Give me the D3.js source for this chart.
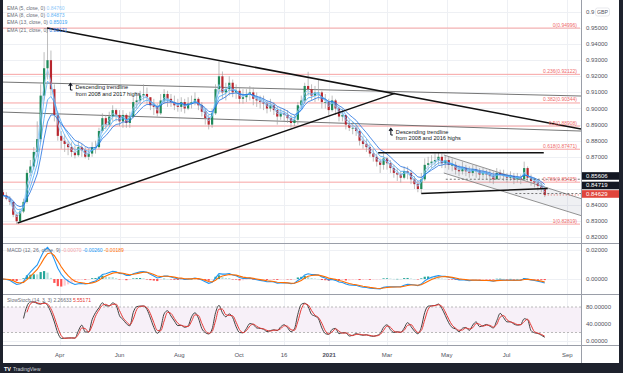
<!DOCTYPE html>
<html><head><meta charset="utf-8">
<script src="https://cdn.jsdelivr.net/npm/d3@7"></script>
<style>html,body{margin:0;padding:0;background:#1e222d;}svg{display:block;font-family:"Liberation Sans",Arial,sans-serif;}</style>
</head><body><svg id="c" width="623" height="373"></svg>
<script>
// ---------------- DATA ----------------
const startDate = "2020-02-03";           // first candle; candles are half-week bars
const firstOpen = 0.8480;
const closes = [
.8460,.8440,.8420,.8340,.8300,.8360,.8420,.8600,.8640,.8730,.8810,.9080,.9250,.9300,.9120,.8960,
.8830,.8800,.8780,.8760,.8730,.8710,.8760,.8740,.8700,.8720,.8760,.8760,.8860,.8940,.8900,.8950,
.8990,.8960,.8920,.8960,.8910,.8950,.9040,.9050,.9080,.9090,.9070,.9020,.9010,.8970,.9050,.9090,
.9060,.9040,.9020,.9010,.9040,.9000,.9030,.9040,.9060,.9020,.8980,.8940,.8900,.8970,.9120,.9200,
.9100,.9120,.9160,.9100,.9110,.9060,.9070,.9090,.9100,.9060,.9050,.9040,.9030,.9000,.9020,.8990,
.8950,.8970,.8960,.8940,.8910,.8930,.9020,.9050,.9140,.9120,.9080,.9100,.9100,.9040,.9040,.8990,
.9050,.9000,.8950,.8960,.8900,.8880,.8880,.8860,.8800,.8780,.8760,.8720,.8700,.8670,.8650,.8690,
.8660,.8630,.8600,.8590,.8570,.8610,.8600,.8560,.8530,.8500,.8560,.8650,.8660,.8670,.8680,.8700,
.8660,.8680,.8650,.8650,.8620,.8610,.8630,.8610,.8600,.8620,.8610,.8590,.8600,.8590,.8580,.8560,
.8600,.8590,.8580,.8570,.8580,.8560,.8570,.8560,.8630,.8570,.8550,.8540,.8520,.8500,.8463];
const highs = [
.8495,.8480,.8455,.8420,.8345,.8380,.8440,.8620,.8680,.8760,.8920,.9150,.9350,.9499,.9360,.9150,
.8980,.8860,.8840,.8800,.8790,.8770,.8800,.8780,.8760,.8750,.8790,.8800,.8880,.8970,.8960,.8980,
.9020,.9000,.8990,.8990,.8970,.8980,.9070,.9100,.9110,.9150,.9130,.9070,.9060,.9030,.9090,.9120,
.9110,.9090,.9080,.9060,.9070,.9060,.9070,.9080,.9100,.9070,.9040,.9000,.8960,.9000,.9150,.9292,
.9230,.9160,.9200,.9180,.9150,.9130,.9120,.9120,.9140,.9130,.9100,.9080,.9080,.9050,.9060,.9040,
.9010,.9000,.9000,.8990,.8960,.8960,.9040,.9080,.9160,.9228,.9150,.9140,.9180,.9110,.9090,.9060,
.9080,.9060,.9010,.9000,.8960,.8930,.8920,.8900,.8870,.8830,.8810,.8780,.8750,.8720,.8690,.8720,
.8700,.8680,.8650,.8630,.8610,.8640,.8640,.8620,.8580,.8550,.8600,.8690,.8700,.8710,.8720,.8725,
.8720,.8710,.8700,.8690,.8670,.8650,.8670,.8650,.8640,.8650,.8650,.8630,.8630,.8620,.8620,.8610,
.8630,.8620,.8620,.8600,.8610,.8600,.8600,.8590,.8670,.8640,.8590,.8570,.8560,.8540,.8510];
const lows = [
.8440,.8430,.8400,.8325,.8282,.8290,.8350,.8410,.8580,.8620,.8700,.8790,.9050,.9180,.9080,.8920,
.8800,.8750,.8730,.8710,.8700,.8690,.8700,.8700,.8690,.8680,.8700,.8720,.8750,.8850,.8870,.8890,
.8920,.8920,.8890,.8880,.8880,.8880,.8940,.9000,.9020,.9050,.9030,.8990,.8960,.8950,.8960,.9030,
.9010,.9010,.8990,.8980,.8980,.8970,.8990,.9000,.9020,.8990,.8950,.8900,.8870,.8880,.8960,.9090,
.9060,.9050,.9080,.9070,.9060,.9030,.9030,.9040,.9050,.9020,.9010,.9000,.8990,.8970,.8980,.8960,
.8900,.8930,.8920,.8910,.8880,.8890,.8900,.9000,.9030,.9080,.9050,.9040,.9050,.9000,.9000,.8960,
.8980,.8960,.8920,.8920,.8870,.8860,.8840,.8830,.8770,.8750,.8730,.8700,.8670,.8640,.8600,.8620,
.8620,.8600,.8570,.8550,.8540,.8560,.8560,.8530,.8500,.8480,.8472,.8550,.8620,.8630,.8640,.8650,
.8630,.8630,.8620,.8610,.8590,.8580,.8590,.8580,.8570,.8580,.8570,.8560,.8570,.8560,.8540,.8530,
.8560,.8560,.8550,.8540,.8550,.8530,.8540,.8530,.8550,.8550,.8520,.8510,.8490,.8480,.8450];

const emaPeriods = [5, 8, 13, 21];
const emaLegendValues = ["0.84760", "0.84873", "0.85019", "0.85171"];
const macdLegendValues = ["-0.00070", "-0.00260", "-0.00189"];
const stochLegendValues = ["2.26633", "5.55171"];
const priceTicks = [0.82,0.83,0.84,0.85,0.86,0.87,0.88,0.89,0.90,0.91,0.92,0.93,0.94,0.95];
const macdTicks = [0, 0.02];
const stochTicks = [0, 40, 80];
const timeTicks = [["2020-04-01","Apr"],["2020-06-01","Jun"],["2020-08-01","Aug"],["2020-10-01","Oct"],
  ["2020-11-16","16"],["2021-01-01","2021"],["2021-03-01","Mar"],["2021-05-01","May"],["2021-07-01","Jul"],["2021-09-01","Sep"]];
const fibHigh = 0.94996, fibLow = 0.82819;
const fibRatios = [0, 0.236, 0.382, 0.5, 0.618, 0.786, 1];
const thickLines = [
  [["2020-03-19",0.9500],["2021-09-15",0.8873]],
  [["2020-02-18",0.8289],["2021-03-09",0.9094]],
  [["2021-02-20",0.8725],["2021-08-08",0.8725]],
  [["2021-04-05",0.8472],["2021-08-12",0.8503]]];
const thinLines = [
  [["2020-01-31",0.91646],["2021-09-15",0.90776]],
  [["2020-01-31",0.89783],["2021-09-15",0.88600]]];
const channelUpper = [["2021-04-28",0.87112],["2021-09-15",0.84404]];
const channelLower = [["2021-04-28",0.85994],["2021-09-15",0.83348]];
const dashedLevels = [["2021-04-30",0.85606],["2021-07-10",0.84719]];
const priceBoxes = [["0.85606",0.85606,"#131722"],["0.84719",0.84719,"#131722"],["0.84629",0.84629,"#e0453c"]];
const notes = [["2020-04-16",0.9121,"Descending trendline","from 2008 and 2017 highs"],
               ["2021-03-09",0.8842,"Descending trendline","from 2008 and 2016 highs"]];

// ---------------- SETUP ----------------
const parse = d3.timeParse("%Y-%m-%d");
const svg = d3.select("#c");
const W = 623, H = 373;
const plotL = 3, plotR = 581, axisR = 619;
const priceTop = 0, priceBot = 243, macdTop = 244, macdBot = 294, stTop = 295, stBot = 345, timeBot = 363;

const x = d3.scaleTime().domain([parse("2020-01-31"), parse("2021-09-15")]).range([0, 581]);
const y = d3.scaleLinear().domain([0.82, 0.95]).range([237.3, 28]);
const yM = d3.scaleLinear().domain([0, 0.02]).range([279, 250]);
const yS = d3.scaleLinear().domain([0, 80]).range([341, 307]);

svg.append("rect").attr("width", W).attr("height", H).attr("fill", "#1e222d");
svg.append("rect").attr("x", 3).attr("y", 0).attr("width", axisR - 3).attr("height", timeBot).attr("fill", "#fff");

const defs = svg.append("defs");
function clip(id, y0, y1){ defs.append("clipPath").attr("id", id).append("rect").attr("x", plotL).attr("y", y0).attr("width", plotR - plotL).attr("height", y1 - y0); }
clip("cp", priceTop, priceBot); clip("cm", macdTop, macdBot); clip("cs", stTop, stBot);

const t0 = parse(startDate);
const dates = closes.map((_, i) => d3.timeHour.offset(t0, i * 84));
const opens = closes.map((c, i) => i ? closes[i - 1] : firstOpen);

// grid
const grid = svg.append("g").attr("stroke", "#eef0f4").attr("stroke-width", 1);
timeTicks.forEach(t => { const xx = Math.round(x(parse(t[0]))) + 0.5;
  grid.append("line").attr("x1", xx).attr("x2", xx).attr("y1", 0).attr("y2", stBot); });
priceTicks.concat([0.96]).forEach(p => { const yy = Math.round(y(p)) + 0.5; if (yy < priceBot && yy > 0)
  grid.append("line").attr("x1", plotL).attr("x2", plotR).attr("y1", yy).attr("y2", yy); });
macdTicks.forEach(p => { const yy = Math.round(yM(p)) + 0.5;
  grid.append("line").attr("x1", plotL).attr("x2", plotR).attr("y1", yy).attr("y2", yy); });
stochTicks.forEach(p => { const yy = Math.round(yS(p)) + 0.5;
  grid.append("line").attr("x1", plotL).attr("x2", plotR).attr("y1", yy).attr("y2", yy); });

// ---------------- PRICE PANE ----------------
const gp = svg.append("g").attr("clip-path", "url(#cp)");
const P = d => [x(parse(d[0])), y(d[1])];

fibRatios.forEach(r => {
  const v = fibHigh - r * (fibHigh - fibLow);
  const yy = y(v);
  gp.append("line").attr("x1", plotL).attr("x2", 580).attr("y1", yy).attr("y2", yy)
    .attr("stroke", "#f7a3a3").attr("stroke-width", 1);
  svg.append("text").attr("x", 577).attr("y", yy - 1.5).attr("text-anchor", "end")
    .attr("font-size", 5).attr("fill", "#ef6b6b").text(`${r}(${v.toFixed(5)})`);
});

const cu = channelUpper.map(P), cl = channelLower.map(P);
gp.append("path").attr("d", `M${cu[0]}L${cu[1]}L${cl[1]}L${cl[0]}Z`).attr("fill", "rgba(120,130,160,0.12)");
[cu, cl].forEach(l => gp.append("line").attr("x1", l[0][0]).attr("y1", l[0][1]).attr("x2", l[1][0]).attr("y2", l[1][1])
  .attr("stroke", "#777").attr("stroke-width", 0.8));

thinLines.forEach(l => { const a = P(l[0]), b = P(l[1]);
  gp.append("line").attr("x1", a[0]).attr("y1", a[1]).attr("x2", b[0]).attr("y2", b[1]).attr("stroke", "#666").attr("stroke-width", 0.9); });

const cg = gp.append("g");
closes.forEach((c, i) => {
  const o = opens[i], hi = Math.max(highs[i], o, c), lo = Math.min(lows[i], o, c);
  const xx = x(dates[i]);
  const up = c >= o;
  cg.append("line").attr("x1", xx).attr("x2", xx).attr("y1", y(hi)).attr("y2", y(lo)).attr("stroke", "#a0a0a0").attr("stroke-width", 0.7);
  const top = y(Math.max(o, c)), bot = y(Math.min(o, c));
  cg.append("rect").attr("x", xx - 1.1).attr("width", 2.2).attr("y", top).attr("height", Math.max(0.8, bot - top))
    .attr("fill", up ? "#1f8a5a" : "#b8262e");
});

const K = 2.5;
function ema(src, n){ const a = 1 - Math.pow(1 - 2 / (n + 1), K); const o = []; let p;
  src.forEach((v, i) => { p = i === 0 ? v : p + a * (v - p); o.push(p); }); return o; }
const emaColors = ["#90caf9", "#64b5f6", "#42a5f5", "#1e6fe0"];
emaPeriods.forEach((n, j) => {
  const e = ema(closes, n);
  gp.append("path").datum(e).attr("fill", "none").attr("stroke", emaColors[j]).attr("stroke-width", 0.8)
    .attr("d", d3.line().x((d, i) => x(dates[i])).y(d => y(d)));
});

thickLines.forEach(l => { const a = P(l[0]), b = P(l[1]);
  gp.append("line").attr("x1", a[0]).attr("y1", a[1]).attr("x2", b[0]).attr("y2", b[1]).attr("stroke", "#111").attr("stroke-width", 1.5); });

dashedLevels.forEach(l => { const a = P(l);
  gp.append("line").attr("x1", a[0]).attr("x2", plotR).attr("y1", a[1]).attr("y2", a[1]).attr("stroke", "#555").attr("stroke-width", 0.8).attr("stroke-dasharray", "2,2"); });
const lastY = y(closes[closes.length - 1]);
gp.append("line").attr("x1", x(dates[dates.length - 1])).attr("x2", plotR).attr("y1", lastY).attr("y2", lastY)
  .attr("stroke", "#e0453c").attr("stroke-width", 0.8).attr("stroke-dasharray", "1,2");

notes.forEach(n => {
  const xx = x(parse(n[0])), yy = y(n[1]);
  svg.append("path").attr("d", `M${xx - 4},${yy + 1}L${xx - 4},${yy - 5}M${xx - 5.8},${yy - 3}L${xx - 4},${yy - 5.5}L${xx - 2.2},${yy - 3}M${xx - 4},${yy + 1}L${xx - 2},${yy + 1}`)
    .attr("stroke", "#131722").attr("stroke-width", 1.1).attr("fill", "none");
  svg.append("text").attr("x", xx + 1).attr("y", yy).attr("font-size", 5.6).attr("fill", "#131722").text(n[2]);
  svg.append("text").attr("x", xx + 1).attr("y", yy + 6.5).attr("font-size", 5.6).attr("fill", "#131722").text(n[3]);
});

// ---------------- MACD ----------------
const e12 = ema(closes, 12), e26 = ema(closes, 26);
const macd = e12.map((v, i) => v - e26[i]);
const sig = ema(macd, 9);
const hist = macd.map((v, i) => v - sig[i]);
const gm = svg.append("g").attr("clip-path", "url(#cm)");
hist.forEach((h, i) => {
  const prev = i ? hist[i - 1] : 0;
  const col = h >= 0 ? (h >= prev ? "#26a69a" : "#b2dfdb") : (h < prev ? "#ff5252" : "#ffcdd2");
  const y0 = yM(0), y1 = yM(h);
  gm.append("rect").attr("x", x(dates[i]) - 1.1).attr("width", 2.2).attr("y", Math.min(y0, y1)).attr("height", Math.max(0.5, Math.abs(y1 - y0))).attr("fill", col);
});
const lineM = d3.line().x((d, i) => x(dates[i])).y(d => yM(d));
gm.append("path").datum(macd).attr("fill", "none").attr("stroke", "#2196f3").attr("stroke-width", 1.1).attr("d", lineM);
gm.append("path").datum(sig).attr("fill", "none").attr("stroke", "#ff6d00").attr("stroke-width", 1.1).attr("d", lineM);

// ---------------- STOCH ----------------
const L = 6;
const rawK = closes.map((c, i) => { if (i < L - 1) return null;
  const hh = d3.max(highs.slice(i - L + 1, i + 1)), ll = d3.min(lows.slice(i - L + 1, i + 1));
  return 100 * (c - ll) / (hh - ll); });
const sma = (arr, n) => arr.map((v, i) => { const s = arr.slice(Math.max(0, i - n + 1), i + 1).filter(q => q != null);
  return (v == null || s.length < n) ? null : d3.mean(s); });
const kLine = sma(rawK, 2), dLine = sma(kLine, 2);
const gs = svg.append("g").attr("clip-path", "url(#cs)");
gs.append("rect").attr("x", plotL).attr("width", plotR - plotL).attr("y", yS(80)).attr("height", yS(20) - yS(80)).attr("fill", "#f7f0f8");
[80, 20].forEach(v => gs.append("line").attr("x1", plotL).attr("x2", plotR).attr("y1", yS(v)).attr("y2", yS(v))
  .attr("stroke", "#aaa").attr("stroke-width", 0.8).attr("stroke-dasharray", "2,2"));
const lineS = d3.line().defined(d => d != null).x((d, i) => x(dates[i])).y(d => yS(d)).curve(d3.curveMonotoneX);
gs.append("path").datum(kLine).attr("fill", "none").attr("stroke", "#444").attr("stroke-width", 1).attr("d", lineS);
gs.append("path").datum(dLine).attr("fill", "none").attr("stroke", "#e53935").attr("stroke-width", 1).attr("d", lineS);

// ---------------- FRAMES & AXES ----------------
const fr = svg.append("g").attr("stroke", "#9a9ea8").attr("stroke-width", 1);
[priceBot + 0.5, macdBot + 0.5, stBot + 0.5].forEach(yy => fr.append("line").attr("x1", plotL).attr("x2", axisR).attr("y1", yy).attr("y2", yy));
fr.append("line").attr("x1", plotR + 0.5).attr("x2", plotR + 0.5).attr("y1", 0).attr("y2", timeBot);

// price boxes (stacked upward from the last one)
const boxY = y(priceBoxes[2][1]) - 1;
const boxCenters = [boxY - 18, boxY - 8.5, boxY];

const ax = svg.append("g").attr("font-size", 6).attr("fill", "#50535e");
priceTicks.forEach(p => { const yy = y(p);
  const hidden = boxCenters.some(c => Math.abs(c - yy) < 7.5);
  if (yy > 4 && yy < priceBot - 3 && !hidden)
  ax.append("text").attr("x", 586).attr("y", yy + 2).text(p.toFixed(5)); });
ax.append("text").attr("x", 586).attr("y", y(0.96) + 2).text("0.9");
macdTicks.forEach(p => ax.append("text").attr("x", 586).attr("y", yM(p) + 2).text(p.toFixed(5)));
stochTicks.forEach(p => ax.append("text").attr("x", 586).attr("y", yS(p) + 2).text(p.toFixed(5)));
timeTicks.forEach(t => ax.append("text").attr("x", x(parse(t[0]))).attr("y", 357).attr("text-anchor", "middle")
  .attr("font-weight", t[1] === "2021" ? "bold" : "normal").text(t[1]));

svg.append("rect").attr("x", 595.5).attr("y", 8).attr("width", 14).attr("height", 8).attr("rx", 2).attr("fill", "#fff").attr("stroke", "#d8dae0").attr("stroke-width", 0.6);
svg.append("text").attr("x", 602.5).attr("y", 14).attr("text-anchor", "middle").attr("font-size", 5.2).attr("fill", "#50535e").text("GBP");

priceBoxes.forEach((b, i) => {
  svg.append("rect").attr("x", plotR + 1).attr("y", boxCenters[i] - 3.8).attr("width", axisR - plotR - 1).attr("height", 7.6).attr("fill", b[2]);
  svg.append("text").attr("x", 586).attr("y", boxCenters[i] + 2).attr("font-size", 6).attr("fill", "#fff").text(b[0]);
});

// legends
const lg = svg.append("g").attr("font-size", 5);
emaPeriods.forEach((n, j) => {
  const t = lg.append("text").attr("x", 7).attr("y", 10 + j * 7.2).attr("fill", "#6a6d78");
  t.append("tspan").text(`EMA (${n}, close, 0) `);
  t.append("tspan").attr("fill", emaColors[j]).text(emaLegendValues[j]);
});
const mt = lg.append("text").attr("x", 7).attr("y", 252).attr("fill", "#6a6d78");
mt.append("tspan").text("MACD (12, 26, close, 9)  ");
mt.append("tspan").attr("fill", "#f5a3a8").text(macdLegendValues[0] + "  ");
mt.append("tspan").attr("fill", "#2196f3").text(macdLegendValues[1] + "  ");
mt.append("tspan").attr("fill", "#ff6d00").text(macdLegendValues[2]);
const st = lg.append("text").attr("x", 7).attr("y", 302).attr("fill", "#6a6d78");
st.append("tspan").text("SlowStoch (14, 3, 3)  " + stochLegendValues[0] + "  ");
st.append("tspan").attr("fill", "#e53935").text(stochLegendValues[1]);

svg.append("text").attr("x", 4).attr("y", 370.5).attr("font-size", 5.5).attr("font-weight", "bold").attr("fill", "#fff").text("TV");
svg.append("text").attr("x", 13).attr("y", 370.5).attr("font-size", 5).attr("fill", "#d1d4dc").text("TradingView");
</script></body></html>
